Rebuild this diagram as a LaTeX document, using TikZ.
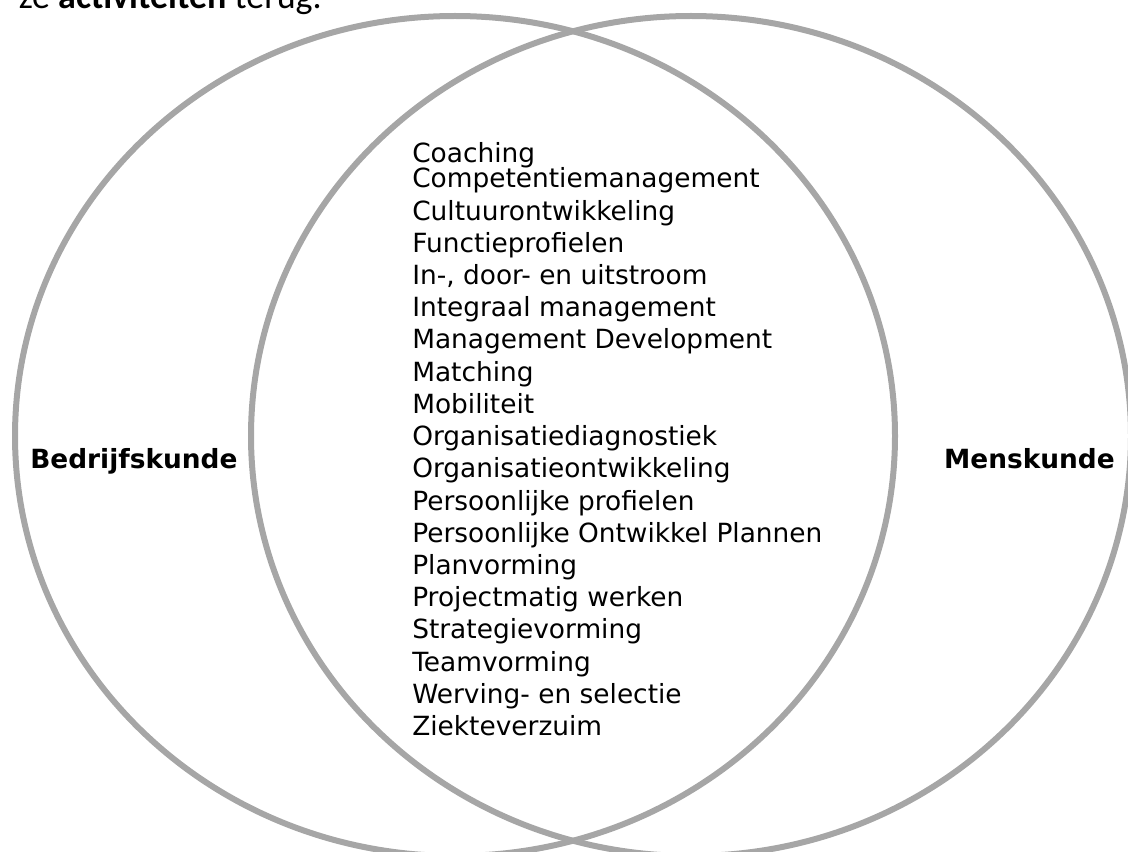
\documentclass[tikz,border=0pt]{standalone}
\usepackage{fontspec}
\setmainfont{DejaVu Sans}
\newfontfamily\introfont{Carlito}
\usepackage{tikz}
\definecolor{ringgray}{RGB}{166,166,166}

\begin{document}
\begin{tikzpicture}[x=0.75pt,y=-0.75pt,
	ring/.style={draw=ringgray,line width=4.5pt},
	item/.style={anchor=base west,inner sep=0pt,font=\fontsize{19.8}{23}\selectfont},
	field/.style={inner sep=0pt,font=\fontsize{19.8}{23}\selectfont\bfseries}]
	\useasboundingbox (0,0) rectangle (1128,852);
	% intro line, cut off at the top
	\node[anchor=base east,inner sep=0pt,font=\introfont\fontsize{27}{30}\selectfont] (intro) at (322,9) {ze \textbf{activiteiten} terug.};
	% the two circles
	\draw[ring] (455,436) ellipse [x radius=330pt,y radius=315pt];
	\draw[ring] (691,436) ellipse [x radius=330pt,y radius=315pt];
	% labels
	\node[field,anchor=base west] (bedrijf) at (30,468) {Bedrijfskunde};
	\node[field,anchor=base east] (mens) at (1115,468) {Menskunde};
	% activities
	\node[item] (act0) at (412,163) {Coaching};
	\foreach \txt [count=\i] in {Competentiemanagement,Cultuurontwikkeling,Functieprofielen,
		{In-, door- en uitstroom},Integraal management,Management Development,Matching,
		Mobiliteit,Organisatiediagnostiek,Organisatieontwikkeling,Persoonlijke profielen,
		Persoonlijke Ontwikkel Plannen,Planvorming,Projectmatig werken,Strategievorming,
		Teamvorming,Werving- en selectie,Ziekteverzuim}
		\node[item] (act\i) at (412,{188+32.2*(\i-1)}) {\txt};
\end{tikzpicture}
\end{document}
